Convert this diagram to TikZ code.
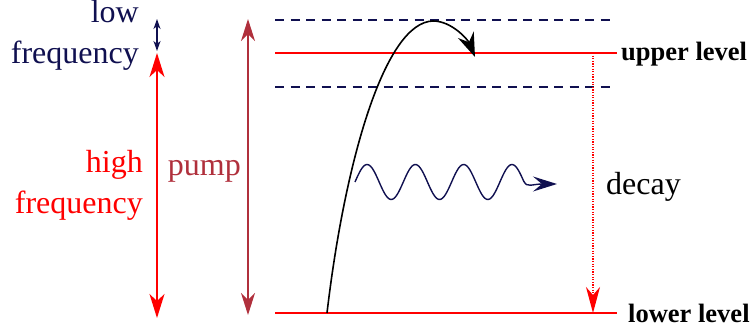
\documentclass[tikz,border=0pt]{standalone}
\usepackage{fontspec}
\setmainfont{Liberation Serif}
\newfontfamily\timesf{Liberation Serif}
\usetikzlibrary{arrows.meta}
\definecolor{navy}{RGB}{16,16,80}
\definecolor{pumpc}{RGB}{176,48,60}
\definecolor{lred}{RGB}{255,0,0}
\begin{document}
\begin{tikzpicture}[x=1pt,y=-1pt,
  level/.style={lred,line width=2.4pt},
  vlevel/.style={navy,line width=2.4pt,dash pattern=on 9pt off 6.5pt},
  lbl/.style={font=\timesf\fontsize{32}{41}\selectfont,inner sep=0pt},
  lvl/.style={font=\timesf\fontsize{26.5}{30}\selectfont\bfseries,inner sep=0pt,anchor=base west}]
\useasboundingbox (0,0) rectangle (756,334);
% levels
\coordinate (dUa) at (275,20); \coordinate (dUb) at (613,20);
\coordinate (dLa) at (275,87); \coordinate (dLb) at (613,87);
\coordinate (uA) at (275,53); \coordinate (uB) at (617,53);
\coordinate (lA) at (275,313); \coordinate (lB) at (617,313);
\draw[vlevel] (dUa) -- (dUb);
\draw[vlevel] (dLa) -- (dLb);
\draw[level] (uA) -- (uB);
\draw[level] (lA) -- (lB);
\node[lvl] (ul) at (621,61) {upper level};
\node[lvl] (ll) at (628,322) {lower level};
% decay
\coordinate (dA) at (593,53); \coordinate (dB) at (593,313);
\draw[lred,line width=1.3pt,dash pattern=on 1.3pt off 1.3pt,-{Stealth[length=26pt,width=14pt,inset=8pt,sep=0pt]}] (dA) -- (dB);
\node[lbl,anchor=base west] (decay) at (606,195) {decay};
% pump
\coordinate (pA) at (248,19); \coordinate (pB) at (248,315);
\draw[pumpc,line width=1.4pt,{Stealth[length=22pt,width=14pt,inset=7pt]}-{Stealth[length=22pt,width=14pt,inset=7pt]}] (pA) -- (pB);
\node[lbl,anchor=base east,text=pumpc] (pump) at (241,176) {pump};
% high frequency
\coordinate (hA) at (157,53); \coordinate (hB) at (157,318);
\draw[lred,line width=1.4pt,{Stealth[length=24pt,width=15pt,inset=7pt]}-{Stealth[length=24pt,width=15pt,inset=7pt]}] (hA) -- (hB);
\node[lbl,anchor=base east,text=lred] (hf) at (143,173) {\begin{tabular}[t]{@{}r@{}}high\\frequency\end{tabular}};
% low frequency
\coordinate (fA) at (157,19); \coordinate (fB) at (157,51);
\draw[navy,line width=1.4pt,{Stealth[length=10pt,width=7pt,inset=3pt]}-{Stealth[length=10pt,width=7pt,inset=3pt]}] (fA) -- (fB);
\node[lbl,anchor=base east,text=navy] (lf) at (139,23) {\begin{tabular}[t]{@{}r@{}}low\\frequency\end{tabular}};
% pump curve
\coordinate (cA) at (327,313); \coordinate (cB) at (475,57);
\draw[line width=1.6pt,-{Stealth[length=24pt,width=17pt,inset=8pt]}] (cA) .. controls (345,160) and (385,22) .. (433,21) .. controls (452,21) and (468,40) .. (cB);
% wave
\coordinate (wA) at (355,182); \coordinate (wB) at (557,184);
\draw[navy,line width=1.4pt] plot[domain=355:524,samples=120,smooth] (\x,{182-17.5*sin((\x-355)/48.3*360)});
\draw[navy,line width=1.4pt,-{Stealth[length=24pt,width=15pt,inset=9pt]}] (524,181.5) .. controls (527,188) and (532,184) .. (wB);
\end{tikzpicture}
\end{document}
